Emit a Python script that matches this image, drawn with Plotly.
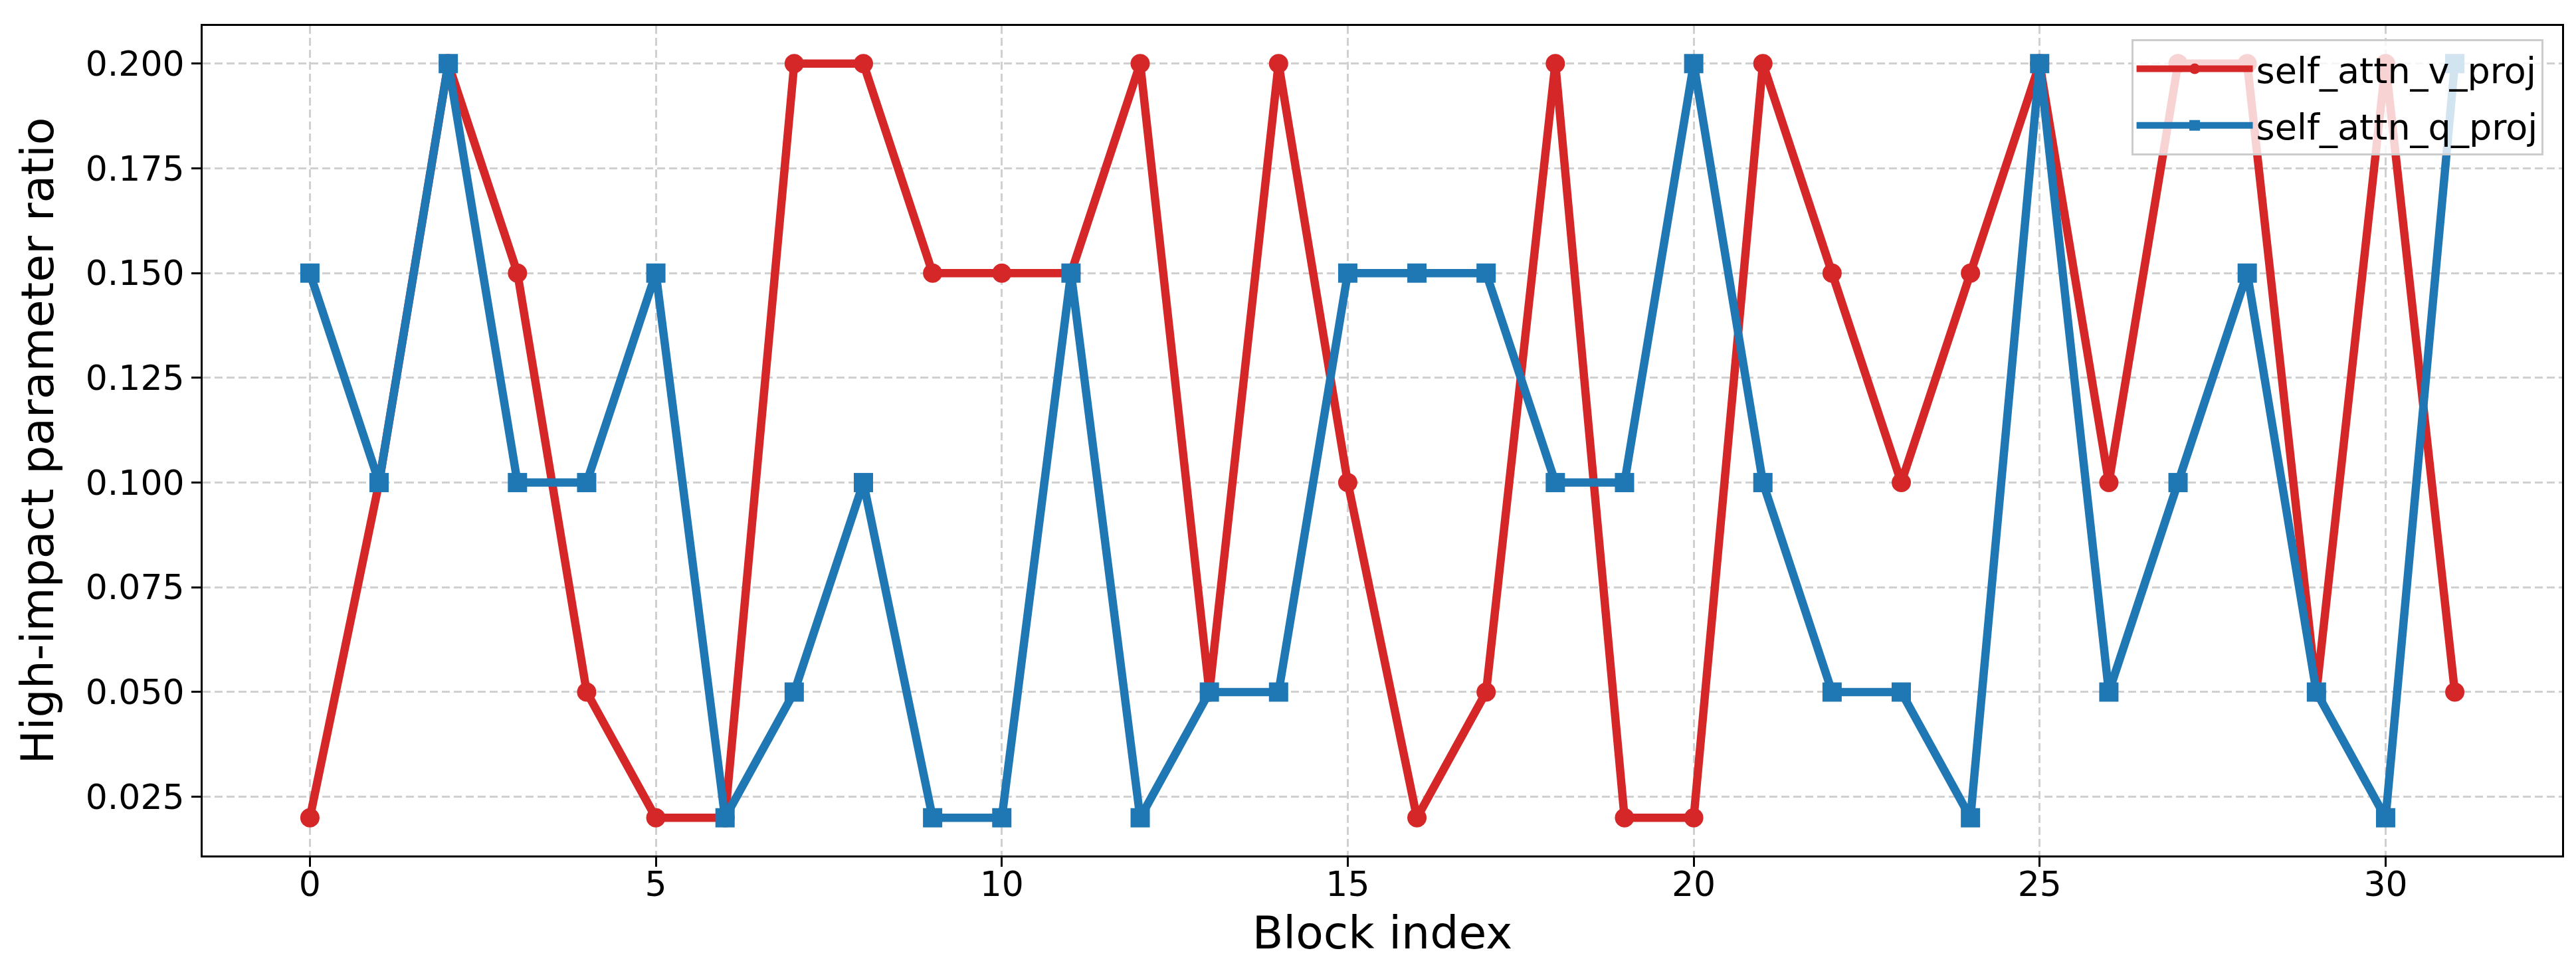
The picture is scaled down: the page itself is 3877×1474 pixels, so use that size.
import plotly.graph_objects as go

blocks = list(range(32))
v_proj = [0.02, 0.10, 0.20, 0.15, 0.05, 0.02, 0.02, 0.20, 0.20, 0.15,
          0.15, 0.15, 0.20, 0.05, 0.20, 0.10, 0.02, 0.05, 0.20, 0.02,
          0.02, 0.20, 0.15, 0.10, 0.15, 0.20, 0.10, 0.20, 0.20, 0.05,
          0.20, 0.05]
q_proj = [0.15, 0.10, 0.20, 0.10, 0.10, 0.15, 0.02, 0.05, 0.10, 0.02,
          0.02, 0.15, 0.02, 0.05, 0.05, 0.15, 0.15, 0.15, 0.10, 0.10,
          0.20, 0.10, 0.05, 0.05, 0.02, 0.20, 0.05, 0.10, 0.15, 0.05,
          0.02, 0.20]
x_ticks = [0, 5, 10, 15, 20, 25, 30]
y_ticks = [0.025, 0.05, 0.075, 0.1, 0.125, 0.15, 0.175, 0.2]

FONT = "DejaVu Sans"
fig = go.Figure()
fig.add_trace(go.Scatter(x=blocks, y=v_proj, mode="lines+markers", name="self_attn_v_proj",
                         legendgroup="v",
                         line=dict(color="#d62728", width=12.5),
                         marker=dict(symbol="circle", size=29, color="#d62728")))
fig.add_trace(go.Scatter(x=blocks, y=q_proj, mode="lines+markers", name="self_attn_q_proj",
                         legendgroup="q",
                         line=dict(color="#1f77b4", width=12.5),
                         marker=dict(symbol="square", size=29, color="#1f77b4")))

axis_common = dict(showline=True, linecolor="black", linewidth=3, mirror=True,
                   ticks="outside", ticklen=14, tickwidth=3, tickcolor="black",
                   showgrid=True, gridcolor="#d0d0d0", gridwidth=3, griddash="12px,6px",
                   zeroline=False, tickfont=dict(family=FONT, size=52, color="black"))

fig.update_xaxes(range=[-1.55, 32.55], tickvals=x_ticks, ticklabelstandoff=-18,
                 title=dict(text="Block index", font=dict(family=FONT, size=68, color="black"), standoff=20),
                 **axis_common)
fig.update_yaxes(range=[0.011, 0.209], tickvals=y_ticks, tickformat=".3f",
                 title=dict(text="High-impact parameter ratio", font=dict(family=FONT, size=68, color="black"), standoff=26),
                 **axis_common)

fig.update_layout(width=3877, height=1474,
                  margin=dict(l=297, r=29, t=31, b=194, autoexpand=False),
                  plot_bgcolor="white", paper_bgcolor="white",
                  font=dict(family=FONT, color="black"),
                  legend=dict(x=0.992, y=0.984, xanchor="right", yanchor="top",
                              bgcolor="rgba(255,255,255,0.8)", bordercolor="#cccccc", borderwidth=3,
                              itemwidth=175, tracegroupgap=12,
                              font=dict(family=FONT, size=54, color="black")),
                  showlegend=True)

fig.write_html("out.html")
